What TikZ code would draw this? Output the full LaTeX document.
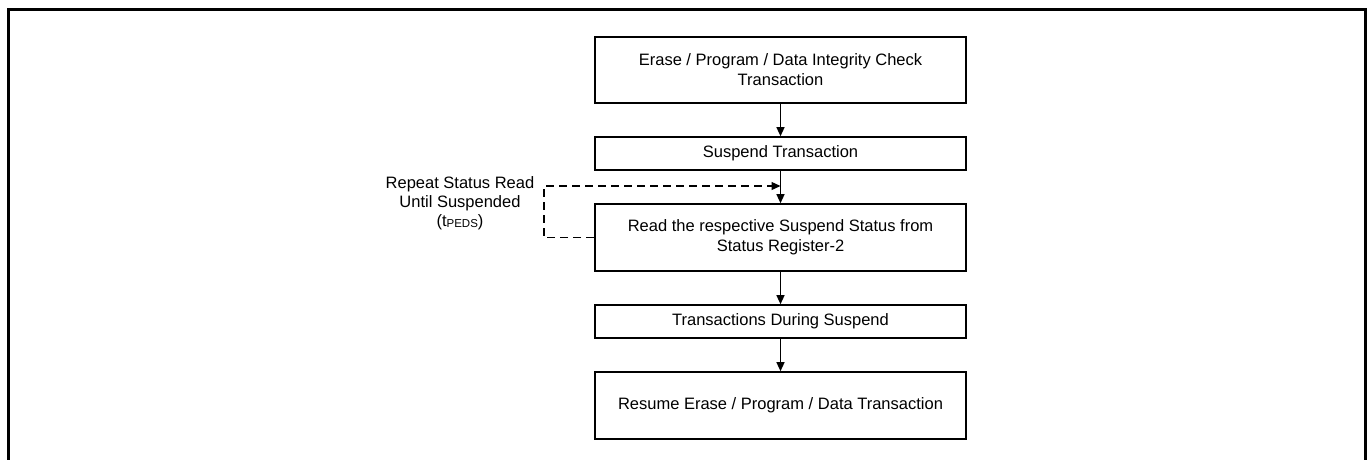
\documentclass[tikz,border=0pt]{standalone}
\usepackage{fontspec}
\setmainfont{Liberation Sans}
\usetikzlibrary{arrows.meta}
\begin{document}
\begin{tikzpicture}[x=1pt,y=-1pt,
  fbox/.style={draw,line width=1.6pt,minimum width=371pt,inner sep=0pt,align=center,
    font=\fontsize{16.5pt}{20pt}\selectfont},
  conn/.style={line width=1.3pt,-{Triangle[length=9pt,width=8pt]}},
  dconn/.style={conn,dash pattern=on 8pt off 5pt},
  lbl/.style={align=center,font=\fontsize{16.5pt}{19pt}\selectfont}]
\useasboundingbox (0,0) rectangle (1369,460);
\draw[line width=3pt] (8,460) -- (8,10) -- (1365,10) -- (1365,460);
\node[fbox,minimum height=66pt] (b1) at (780.5,70) {Erase / Program / Data Integrity Check\\Transaction};
\node[fbox,minimum height=33pt] (b2) at (780.5,153.5) {Suspend Transaction};
\node[fbox,minimum height=67pt] (b3) at (780.5,237.5) {Read the respective Suspend Status from\\Status Register-2};
\node[fbox,minimum height=33pt] (b4) at (780.5,321.5) {Transactions During Suspend};
\node[fbox,minimum height=67pt] (b5) at (780.5,405.5) {Resume Erase / Program / Data Transaction};
\node[lbl] (l) at (460,203) {Repeat Status Read\\Until Suspended\\(t{\raisebox{-1.5pt}{\fontsize{11.5pt}{12pt}\selectfont PEDS}})};
\coordinate (c1) at (544,186);
\coordinate (c2) at (780.5,186);
\draw[conn] (b1) -- (b2);
\draw[conn] (b2) -- (b3);
\draw[conn] (b3) -- (b4);
\draw[conn] (b4) -- (b5);
\draw[dconn] (b3.west) -| (c1) -- (c2);
\end{tikzpicture}
\end{document}
